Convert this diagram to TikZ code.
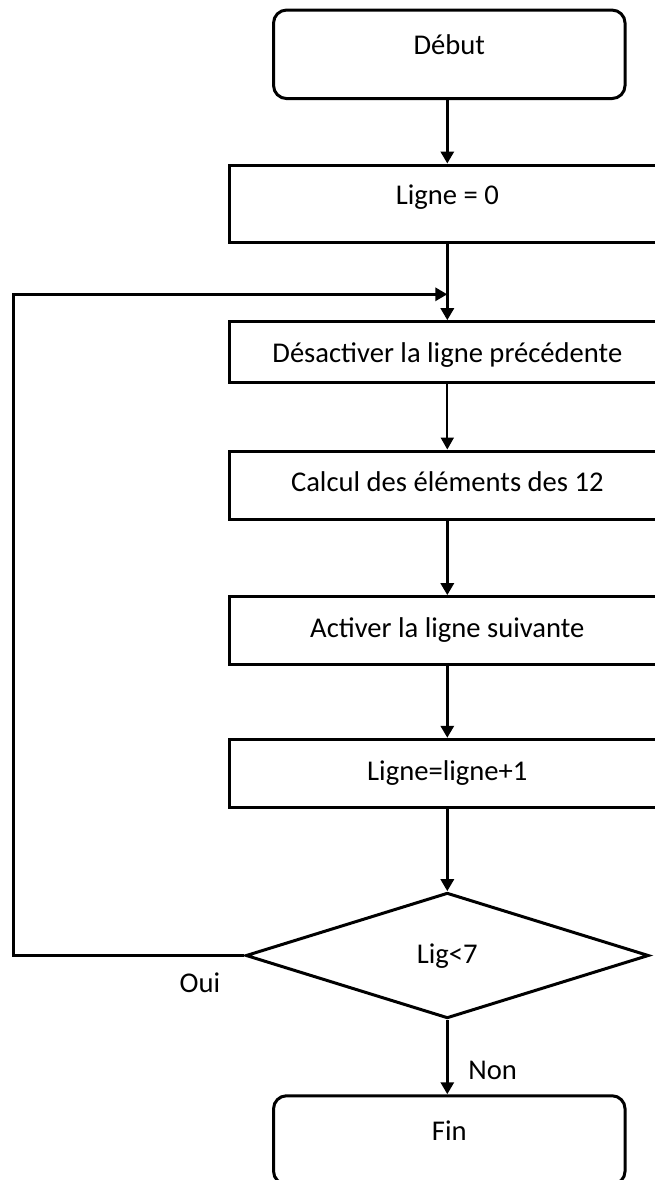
\documentclass[tikz,border=0pt]{standalone}
\usepackage{fontspec}
\setmainfont{Carlito}
\usetikzlibrary{arrows.meta,shapes.geometric}
\begin{document}
\begin{tikzpicture}[x=1pt,y=-1pt,
  font=\fontsize{28.6}{34}\selectfont,
  box/.style={draw,line width=3pt,rectangle,inner sep=0pt,minimum width=435.5pt},
  term/.style={draw,line width=3pt,rectangle,rounded corners=13pt,inner sep=0pt,
    minimum width=351.5pt,minimum height=88.5pt,text height=20pt,text depth=20pt},
  cond/.style={draw,line width=3pt,diamond,inner sep=0pt,minimum width=403pt,minimum height=125.6pt},
  arr/.style={line width=3pt,-{Triangle[length=12pt,width=13pt]}},
  tarr/.style={line width=2pt,-{Triangle[length=12pt,width=13pt]}},
  lbl/.style={anchor=base,inner sep=0pt}]
\useasboundingbox (0,0) rectangle (655,1180);
\clip (0,0) rectangle (655,1180);
\node[term] (start) at (449.3,54.3) {Début};
\node[box, minimum height=77.3pt, text height=20.5pt, text depth=19.5pt] (l0) at (447.3,203.7) {Ligne = 0};
\node[box, minimum height=60.6pt, text height=30.2pt, text depth=9.8pt] (desact) at (447.3,352) {Désactiver la ligne précédente};
\node[box, minimum height=68pt, text height=26pt, text depth=14pt] (calc) at (447.3,485) {Calcul des éléments des 12};
\node[box, minimum height=68.3pt, text height=26.4pt, text depth=13.6pt] (activ) at (447.3,630.8) {Activer la ligne suivante};
\node[box, minimum height=68pt, text height=26.7pt, text depth=13.3pt] (incr) at (447.3,773.3) {Ligne=ligne+1};
\node[cond, text height=28.3pt, text depth=11.7pt] (test) at (447.3,955.5) {Lig<7};
\node[term] (fin) at (449.3,1140) {Fin};
\coordinate (join) at (447.3,294.3);
\coordinate (lt) at (13.3,955.5);
\coordinate (lb) at (13.3,294.3);
\draw[arr] (start.south -| l0.north) -- (l0.north);
\draw[arr] (l0.south) -- (desact.north);
\draw[arr] (test.west) -- (lt) -- (lb) -- (join);
\draw[tarr] (desact.south) -- (calc.north);
\draw[arr] (calc.south) -- (activ.north);
\draw[arr] (activ.south) -- (incr.north);
\draw[arr] (incr.south) -- (test.north);
\draw[arr] (test.south) -- (fin.north -| test.south);
\node[lbl] (oui) at (200,992.3) {Oui};
\node[lbl] (non) at (492.7,1079) {Non};
\end{tikzpicture}
\end{document}
